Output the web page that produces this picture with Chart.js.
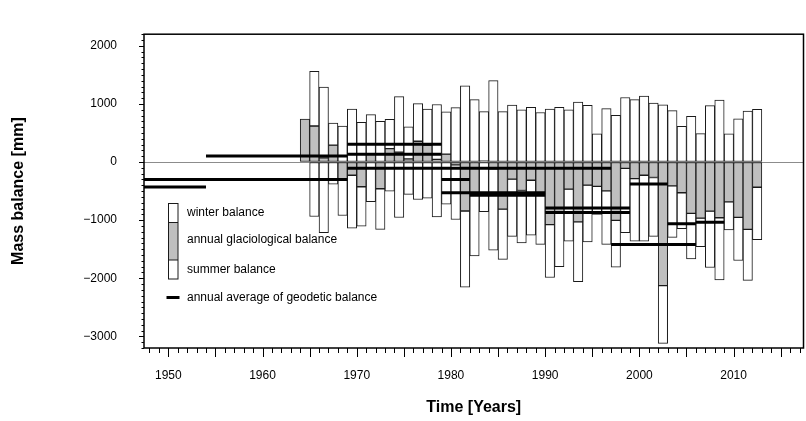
<!DOCTYPE html>
<html lang="en">
<head>
    <meta charset="UTF-8">
    <title>Mass balance</title>
    <style>
        * {
            box-sizing: border-box;
            margin: 0;
            padding: 0;
        }
        body {
            background: #ffffff;
        }
        .chart-box {
            position: relative;
            width: 806px;
            height: 421px;
        }
    </style>
</head>
<body>
<div class="chart-box">
    <canvas id="massChart"></canvas>
</div>

<script src="https://cdn.jsdelivr.net/npm/chart.js"></script>
<script>
    // hydrological years, each bar covers the year ending at this value
    const years = [1965, 1966, 1967, 1968, 1969, 1970, 1971, 1972, 1973, 1974,
        1975, 1976, 1977, 1978, 1979, 1980, 1981, 1982, 1983, 1984,
        1985, 1986, 1987, 1988, 1989, 1990, 1991, 1992, 1993, 1994,
        1995, 1996, 1997, 1998, 1999, 2000, 2001, 2002, 2003, 2004,
        2005, 2006, 2007, 2008, 2009, 2010, 2011, 2012, 2013];
    const winterBalance = [null, 1560, 1288, 672, 619, 913, 682, 816, 700, 733,
        1127, 608, 1005, 910, 990, 866, 937, 1312, 1075, 868,
        1402, 868, 982, 897, 942, 852, 910, 942, 897, 1032,
        977, 484, 920, 805, 1111, 1075, 1135, 1013, 984, 886,
        616, 786, 490, 971, 1066, 484, 743, 875, 908];
    const annualBalance = [740, 620, 72, 291, -300, -227, -425, 136, -460, 232,
        171, 55, 358, 290, 47, 136, -50, -843, -541, 15,
        -116, -810, -294, -490, -313, -565, -1076, -860, -465, -1030,
        -398, -418, -495, -1005, -108, -285, -227, -266, -2127, -410,
        -529, -882, -966, -845, -958, -685, -952, -1158, -434];
    const summerBalance = [null, -937, -1216, -381, -920, -1140, -1105, -680, -1158, -500,
        -955, -556, -644, -620, -945, -727, -989, -2153, -1616, -855,
        -1518, -1675, -1278, -1390, -1257, -1417, -1987, -1800, -1360, -2060,
        -1375, -902, -1417, -1810, -1217, -1362, -1362, -1280, -3121, -1296,
        -1145, -1666, -1455, -1815, -2029, -1167, -1695, -2037, -1336];

    // geodetic periods: start year, end year, annual average (mm)
    const geoStart = [1940, 1940, 1954, 1969, 1969, 1969, 1979, 1979, 1982, 1990, 1990, 1997, 1999, 2003, 2006];
    const geoEnd = [1954, 1969, 1969, 1979, 1979, 1997, 1982, 1990, 1990, 1999, 1999, 2006, 2003, 2006, 2009];
    const geoValue = [-429, -302, 102, 308, 133, -108, -300, -528, -570, -790, -870, -1420, -376, -1063, -1037];

    const xTickLabels = [1950, 1960, 1970, 1980, 1990, 2000, 2010];
    const yTickLabels = [-3000, -2000, -1000, 0, 1000, 2000];

    const FONT = "'Liberation Sans', Arial, sans-serif";
    Chart.defaults.font.family = FONT;
    Chart.defaults.color = '#000';

    const winterData = [];
    const annualData = [];
    const summerData = [];
    years.forEach((yr, i) => {
        const x = yr - 0.5;
        const a = annualBalance[i];
        annualData.push({ x: x, y: [0, a] });
        if (winterBalance[i] !== null) {
            winterData.push({ x: x, y: [Math.max(a, 0), winterBalance[i]] });
            summerData.push({ x: x, y: [summerBalance[i], Math.min(a, 0)] });
        }
    });

    const barStyle = {
        type: 'bar',
        grouped: false,
        barPercentage: 1,
        categoryPercentage: 1,
        borderWidth: 1,
        borderColor: '#1a1a1a',
        borderSkipped: false,
        order: 1
    };

    const datasets = [
        Object.assign({ label: 'winter balance', data: winterData, backgroundColor: '#ffffff' }, barStyle),
        Object.assign({ label: 'annual glaciological balance', data: annualData, backgroundColor: '#bfbfbf' }, barStyle),
        Object.assign({ label: 'summer balance', data: summerData, backgroundColor: '#ffffff' }, barStyle)
    ];

    geoValue.forEach((v, i) => {
        datasets.push({
            type: 'line',
            label: 'geodetic',
            data: [{ x: geoStart[i], y: v }, { x: geoEnd[i], y: v }],
            borderColor: '#000',
            borderWidth: 3,
            pointRadius: 0,
            fill: false,
            clip: 0,
            order: 0
        });
    });

    // frame, minor ticks and the in-plot legend
    const framePlugin = {
        id: 'framePlugin',
        afterDraw(chart) {
            const { ctx, chartArea: a, scales: { x, y } } = chart;
            ctx.save();
            ctx.strokeStyle = '#000';
            ctx.lineWidth = 1;
            ctx.beginPath();
            for (let yr = 1948; yr <= 2017; yr++) {
                const px = Math.round(x.getPixelForValue(yr)) + 0.5;
                const len = yr % 5 === 0 ? 9 : 5;
                ctx.moveTo(px, a.bottom);
                ctx.lineTo(px, a.bottom + len);
            }
            for (let v = -3200; v <= 2200; v += 100) {
                const py = Math.round(y.getPixelForValue(v)) + 0.5;
                const len = v % 1000 === 0 ? 5 : 2.5;
                ctx.moveTo(a.left - len, py);
                ctx.lineTo(a.left, py);
            }
            ctx.stroke();

            ctx.lineWidth = 1.5;
            ctx.strokeRect(a.left, a.top, a.right - a.left, a.bottom - a.top);

            // legend
            const lx = 168.5, lw = 9.5;
            ctx.fillStyle = '#ffffff';
            ctx.fillRect(lx, 203.5, lw, 75.5);
            ctx.fillStyle = '#bfbfbf';
            ctx.fillRect(lx, 222.5, lw, 37.5);
            ctx.lineWidth = 1;
            ctx.strokeStyle = '#1a1a1a';
            ctx.strokeRect(lx, 203.5, lw, 75.5);
            ctx.beginPath();
            ctx.moveTo(lx, 222.5); ctx.lineTo(lx + lw, 222.5);
            ctx.moveTo(lx, 260); ctx.lineTo(lx + lw, 260);
            ctx.stroke();
            ctx.lineWidth = 3;
            ctx.strokeStyle = '#000';
            ctx.beginPath();
            ctx.moveTo(166.5, 297.5); ctx.lineTo(179.5, 297.5);
            ctx.stroke();

            ctx.fillStyle = '#000';
            ctx.font = '12px ' + FONT;
            ctx.textBaseline = 'middle';
            ctx.fillText('winter balance', 187, 213);
            ctx.fillText('annual glaciological balance', 187, 240);
            ctx.fillText('summer balance', 187, 270);
            ctx.fillText('annual average of geodetic balance', 187, 297.5);
            ctx.restore();
        }
    };

    new Chart(document.getElementById('massChart'), {
        type: 'bar',
        data: { datasets: datasets },
        options: {
            responsive: true,
            maintainAspectRatio: false,
            animation: false,
            events: [],
            layout: { padding: { top: 8, right: 2.5, left: 0, bottom: 0 } },
            plugins: {
                legend: { display: false },
                tooltip: { enabled: false }
            },
            scales: {
                x: {
                    type: 'linear',
                    min: 1947.42,
                    max: 2017.42,
                    offset: false,
                    grid: { display: false, drawTicks: false },
                    border: { display: false },
                    afterBuildTicks: s => { s.ticks = xTickLabels.map(v => ({ value: v })); },
                    ticks: {
                        color: '#000',
                        font: { size: 12 },
                        padding: 20,
                        maxRotation: 0,
                        autoSkip: false,
                        callback: v => String(v)
                    },
                    title: {
                        display: true,
                        text: 'Time [Years]',
                        color: '#000',
                        font: { size: 16, weight: 'bold' },
                        padding: { top: 0, bottom: 4 }
                    },
                    afterFit: s => { s.height = 73; }
                },
                y: {
                    min: -3200,
                    max: 2200,
                    grid: {
                        drawTicks: false,
                        lineWidth: 1,
                        color: c => c.tick && c.tick.value === 0 ? '#8c8c8c' : 'rgba(0,0,0,0)'
                    },
                    border: { display: false },
                    afterBuildTicks: s => { s.ticks = yTickLabels.map(v => ({ value: v })); },
                    ticks: {
                        color: '#000',
                        font: { size: 12 },
                        padding: 27,
                        callback: v => v < 0 ? '\u2212' + Math.abs(v) : String(v)
                    },
                    title: {
                        display: true,
                        text: 'Mass balance [mm]',
                        color: '#000',
                        font: { size: 16, weight: 'bold' },
                        padding: { top: 9, bottom: 0 }
                    },
                    afterFit: s => { s.width = 144; }
                }
            }
        },
        plugins: [framePlugin]
    });
</script>
</body>
</html>
